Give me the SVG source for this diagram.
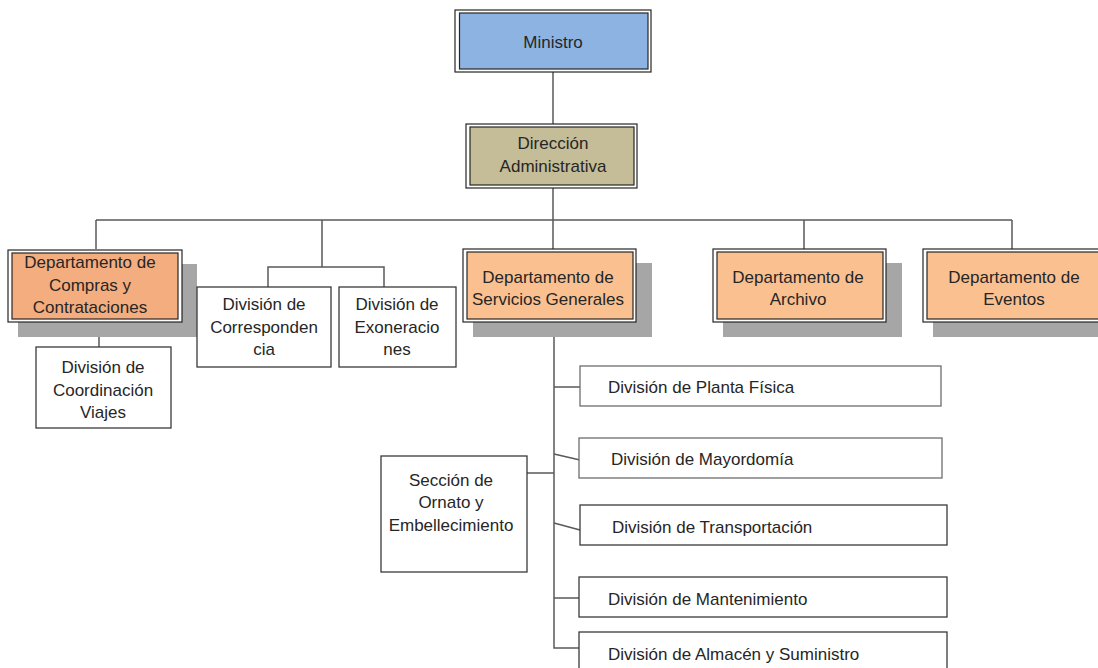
<svg xmlns="http://www.w3.org/2000/svg" width="1098" height="668" viewBox="0 0 1098 668">
  <style>
    .bg { fill: #ffffff; }
    .wire { fill: none; stroke: #595959; stroke-width: 1.5; }
    .shadow { fill: #a6a6a6; }
    .frame { fill: #ffffff; stroke: #262626; stroke-width: 1.2; }
    .core { stroke: #262626; stroke-width: 1.2; }
    .blue { fill: #8db3e2; }
    .tan { fill: #c4bd97; }
    .orange { fill: #fac090; }
    .orange2 { fill: #f4ad7f; }
    .box { fill: #ffffff; stroke: #3a3a3a; stroke-width: 1.3; }
    .box.light { stroke: #6e6e6e; }
    text { font-family: "Liberation Sans", Arial, sans-serif; font-size: 17px; fill: #262626; }
    .c { text-anchor: middle; }
  </style>

  <rect class="bg" x="0" y="0" width="1098" height="668"/>

  <!-- connectors -->
  <g id="connectors">
    <path class="wire" d="M553 72 V124"/>
    <path class="wire" d="M553 188 V249"/>
    <path class="wire" d="M96 220 H1012"/>
    <path class="wire" d="M96 220 V249"/>
    <path class="wire" d="M322 220 V267"/>
    <path class="wire" d="M268 287 V267 H384 V287"/>
    <path class="wire" d="M804 220 V249"/>
    <path class="wire" d="M1012 220 V249"/>
    <path class="wire" d="M99 322 V347"/>
    <path class="wire" d="M554 322 V648 H579"/>
    <path class="wire" d="M554 387 H580"/>
    <path class="wire" d="M554 454 L580 460"/>
    <path class="wire" d="M554 523 L580 530"/>
    <path class="wire" d="M527 473 H554"/>
    <path class="wire" d="M554 598 H579"/>
  </g>

  <!-- top level -->
  <g id="ministro">
    <rect class="frame" x="455" y="10" width="196" height="62"/>
    <rect class="core blue" x="459.5" y="13" width="188.5" height="56"/>
    <text class="c" x="553" y="48">Ministro</text>
  </g>

  <g id="direccion-administrativa">
    <rect class="frame" x="466" y="124" width="171" height="64"/>
    <rect class="core tan" x="470" y="127" width="164" height="58"/>
    <text class="c" x="553" y="149">Dirección</text>
    <text class="c" x="553" y="172">Administrativa</text>
  </g>

  <!-- departments -->
  <g id="depto-compras">
    <rect class="shadow" x="18" y="264" width="179" height="73"/>
    <rect class="frame" x="8" y="250" width="174" height="72"/>
    <rect class="core orange2" x="12" y="253" width="166" height="66"/>
    <text class="c" x="90" y="268">Departamento de</text>
    <text class="c" x="90" y="291">Compras y</text>
    <text class="c" x="90" y="313">Contrataciones</text>
  </g>

  <g id="depto-servicios">
    <rect class="shadow" x="473" y="263" width="179" height="74"/>
    <rect class="frame" x="463" y="249" width="173" height="73"/>
    <rect class="core orange" x="467" y="252" width="166" height="67"/>
    <text class="c" x="548" y="283">Departamento de</text>
    <text class="c" x="548" y="305">Servicios Generales</text>
  </g>

  <g id="depto-archivo">
    <rect class="shadow" x="723" y="263" width="179" height="74"/>
    <rect class="frame" x="713" y="249" width="173" height="73"/>
    <rect class="core orange" x="717" y="252" width="166" height="67"/>
    <text class="c" x="798" y="283">Departamento de</text>
    <text class="c" x="798" y="305">Archivo</text>
  </g>

  <g id="depto-eventos">
    <rect class="shadow" x="933" y="263" width="170" height="74"/>
    <rect class="frame" x="923" y="249" width="180" height="73"/>
    <rect class="core orange" x="927" y="252" width="176" height="67"/>
    <text class="c" x="1014" y="283">Departamento de</text>
    <text class="c" x="1014" y="305">Eventos</text>
  </g>

  <!-- divisions -->
  <g id="div-viajes">
    <rect class="box" x="36" y="347" width="135" height="81"/>
    <text class="c" x="103" y="373">División de</text>
    <text class="c" x="103" y="396">Coordinación</text>
    <text class="c" x="103" y="418">Viajes</text>
  </g>

  <g id="div-correspondencia">
    <rect class="box" x="197" y="287" width="134" height="80"/>
    <text class="c" x="264" y="310">División de</text>
    <text class="c" x="264" y="333">Corresponden</text>
    <text class="c" x="264" y="355">cia</text>
  </g>

  <g id="div-exoneraciones">
    <rect class="box" x="339" y="287" width="117" height="80"/>
    <text class="c" x="397" y="310">División de</text>
    <text class="c" x="397" y="333">Exoneracio</text>
    <text class="c" x="397" y="355">nes</text>
  </g>

  <g id="seccion-ornato">
    <rect class="box" x="381" y="456" width="146" height="116"/>
    <text class="c" x="451" y="486">Sección de</text>
    <text class="c" x="451" y="508">Ornato y</text>
    <text class="c" x="451" y="531">Embellecimiento</text>
  </g>

  <g id="div-planta-fisica">
    <rect class="box light" x="580" y="366" width="361" height="40"/>
    <text x="608" y="393">División de Planta Física</text>
  </g>

  <g id="div-mayordomia">
    <rect class="box light" x="579" y="438" width="363" height="40"/>
    <text x="611" y="465">División de Mayordomía</text>
  </g>

  <g id="div-transportacion">
    <rect class="box" x="580" y="505" width="367" height="40"/>
    <text x="612" y="533">División de Transportación</text>
  </g>

  <g id="div-mantenimiento">
    <rect class="box" x="579" y="577" width="368" height="40"/>
    <text x="608" y="605">División de Mantenimiento</text>
  </g>

  <g id="div-almacen">
    <rect class="box" x="579" y="632" width="368" height="46"/>
    <text x="608" y="660">División de Almacén y Suministro</text>
  </g>
</svg>
